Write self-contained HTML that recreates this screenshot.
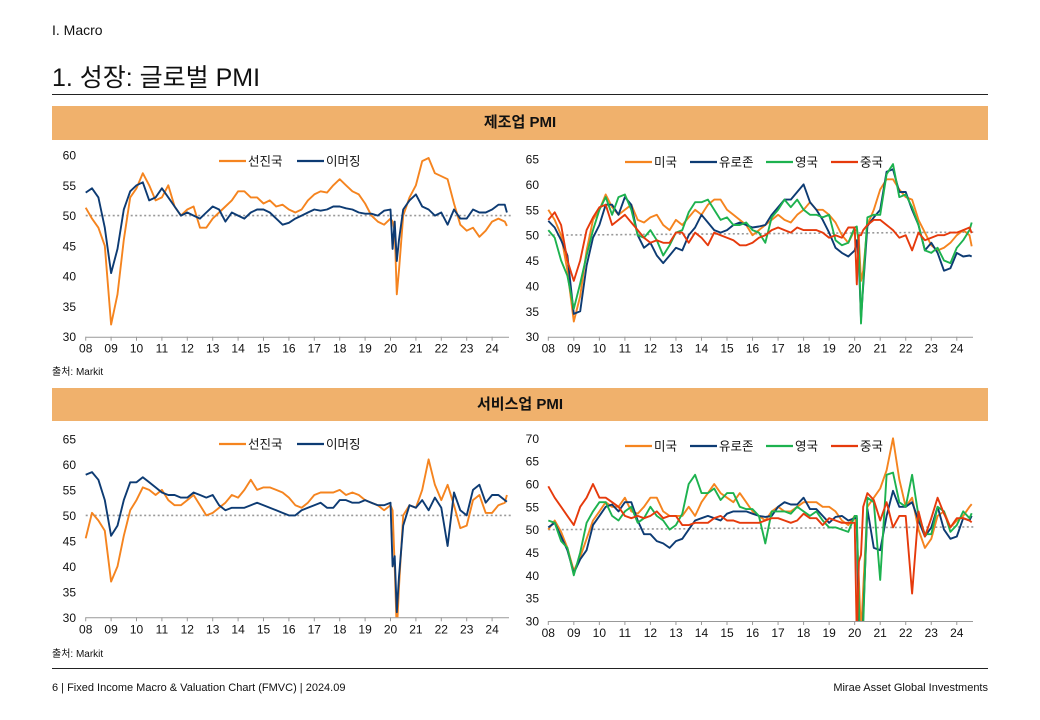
<!DOCTYPE html>
<html><head><meta charset="utf-8">
<style>
body{margin:0;width:1040px;height:720px;background:#fff;position:relative;overflow:hidden;font-family:"Liberation Sans","Noto Sans CJK KR",sans-serif;color:#111}
.abs{position:absolute}
.hdr{position:absolute;left:52px;width:936px;background:#F0B16C;text-align:center;font-weight:bold;font-size:15px}
</style></head><body>
<div class="abs" style="left:52px;top:22px;font-size:14px">I. Macro</div>
<div class="abs" style="left:52px;top:58px;font-size:25px">1. 성장: 글로벌 PMI</div>
<div class="abs" style="left:52px;top:94px;width:936px;height:1px;background:#222"></div>
<div class="hdr" style="top:106px;height:34px;line-height:34px">제조업 PMI</div>
<div class="hdr" style="top:388px;height:33px;line-height:33px">서비스업 PMI</div>
<div class="abs" style="left:52px;top:363px;font-size:10px">출처: Markit</div>
<div class="abs" style="left:52px;top:645px;font-size:10px">출처: Markit</div>
<div class="abs" style="left:52px;top:668px;width:936px;height:1px;background:#222"></div>
<div class="abs" style="left:52px;top:682px;font-size:11px">6 | Fixed Income Macro &amp; Valuation Chart (FMVC) | 2024.09</div>
<div class="abs" style="right:52px;top:682px;font-size:11px">Mirae Asset Global Investments</div>
<svg id="chart" class="abs" style="left:0;top:0" width="1040" height="720"></svg>
<script>
const dates=[2008,2008.25,2008.5,2008.75,2009,2009.25,2009.5,2009.75,2010,2010.25,2010.5,2010.75,2011,2011.25,2011.5,2011.75,2012,2012.25,2012.5,2012.75,2013,2013.25,2013.5,2013.75,2014,2014.25,2014.5,2014.75,2015,2015.25,2015.5,2015.75,2016,2016.25,2016.5,2016.75,2017,2017.25,2017.5,2017.75,2018,2018.25,2018.5,2018.75,2019,2019.25,2019.5,2019.75,2020,2020.083,2020.167,2020.25,2020.333,2020.5,2020.75,2021,2021.25,2021.5,2021.75,2022,2022.25,2022.5,2022.75,2023,2023.25,2023.5,2023.75,2024,2024.25,2024.5,2024.583];
const yearLabels=["08","09","10","11","12","13","14","15","16","17","18","19","20","21","22","23","24"];
// Manufacturing
const mfgDM=[51.3,49.5,48,45,32,37,46,53,54.5,57,55,52.5,53,55,51.5,50,51,51.5,48,48,49.5,50.5,51.5,52.5,54,54,53,53,52,52.5,51.5,51.8,51,50.5,51,52.5,53.5,54,53.8,55,56,55,54,53.5,52,50,49,48.5,49.5,49,47.5,37,41,50,53,55,59,59.5,57,56.5,56,52,48.5,47.5,48,46.5,47.5,49,49.5,49,48.3];
const mfgEM=[53.8,54.5,53,48,40.5,44.5,51,54,55,55.5,52.5,53,54.5,53,51.5,50,50.5,50,49.5,50.5,51.5,51,49,50.5,50,49.5,50.5,51,51,50.5,49.5,48.5,48.8,49.5,50,50.5,51,50.8,51,51.5,51.5,51.2,51,50.5,50.3,50.3,50,50.8,51,44.5,49,42.5,46,51,52.5,53.5,51.5,51,50,50.5,48.5,51,49.5,49.5,51,50.5,50.5,51,51.8,51.8,50.5];
const mfgUS=[55,53,50,43,33,38,47,53,55,58,55.5,54,55,56,53,52.5,53.5,54,52,51,53,52,53.5,55,54,56,57,57,55,54,53,52,50,51,52,53,54,53,52.5,54,55,56.5,55,55,54,52.5,50,48.5,51,51,49,41,43,52,55,59,61,61,59,57.5,57,53,50.5,48,47,47.5,48.5,50,51,50,47.8];
const mfgEZ=[52.8,51.5,49,46,34.5,35,44,49.5,52,56,56,54,57.5,56,50,47.5,48.5,46,44.5,46,47.5,47,50,51.5,54,52.5,51,50.5,51,52,52.5,52,51.5,51.7,52,54,55.5,57,57,58.5,60,56.5,55,53,50.5,47.5,46.5,45.8,47,49,44.5,33.5,40,51.8,53.5,55,62.5,63,58.5,58.5,55,52,47,48.5,46.5,43,43.5,46.5,45.8,46,45.8];
const mfgUK=[51,49.5,45,42,35.5,40.5,46,51,55,57.5,54,57.5,58,55,50,49.5,51,49,46,48,50.5,51,54.5,56.5,56.5,57,55,53,53.5,52,52,52.5,51,50.5,48.5,53.5,55,57,55.5,57,55,54,54,53.5,54,49,48,48.5,51.5,51.7,47.8,32.6,40.7,53.5,54,54,62,64,57.5,58,55.5,52,47,46.5,47.5,45,44.5,47.5,49,51,52.5];
const mfgCN=[53,54.5,52,45,41,45,51,53.5,55.5,56,52,53,54,52.5,51,49.5,48.5,49,48.5,48.5,50.5,50.5,48.5,50.5,49.5,48,50.5,50,49.5,49,48,48,48.5,49.5,50,51,51.5,51,50.5,51.5,51,51,51,50.5,49.5,50,49.5,51.5,51.5,40.3,50,50,51,52,53,53,52,51,49.5,50,47,50.5,49,49.5,50,50,50.5,50.5,51,51.5,50.4];
// Services
const svcDM=[45.5,50.5,49,47,37,40,46,51,53,55.5,55,54,55,53,52,52,53,54,52,50,50.5,51.5,52.5,54,53.5,55,57,55,55.5,55.5,55,54.5,53.5,52,51.5,52.5,54,54.5,54.5,54.5,55,54,54.5,54,53,52.5,52,51,52,51,40,27,36,50,52,51.5,55,61,56,53,56,52,47.5,48,53,54,50.5,50.5,52,52.5,54];
const svcEM=[58,58.5,57,53,46,48,53,56.5,56.5,57.5,56.5,55.5,54.5,54,54,53.5,53.5,54.5,54,53.5,54,52,51,51.5,51.5,51.5,52,52.5,52,51.5,51,50.5,50,50,51,51.5,52,52.5,51.5,51.5,53,53,52.5,52.5,53,52.5,52,52,52.5,40,42,31,38,48,52,51.5,53,51,53.5,51.5,44,54.5,51,50,55,56,52.5,54,54,53,52.7];
const svcUS=[50,52,49.5,46,41,44,48,52,54,56,55,55,57,54,53.5,55,57,57,54,53,53,53,55,53,56,58,60,58,57,56,58,56,54,53,52,54,55,54,54,55,56,56,56,55,55,54,52,51,53,50,39,27,37,55,57,59,63,70,61,55,57,50,46,48,53,54,50.5,52,53,55,55.6];
const svcEZ=[50.5,51.5,48.5,45.5,40.5,43.5,45.5,51,53,55,55.5,54,56,56,52,49,49,47.5,47,46,47.5,48,50,52,52.5,53,52.5,52,53.5,54,54,54,53.5,53,52.8,53,55,56,55.5,55.5,57,54.5,54.5,53,51.5,52.8,53,52,52.5,52.5,26,12,31,54.5,46,45.5,53,58.5,55,55,56,52,48.5,50.5,55,50,48,48.5,52.5,52,53];
const svcUK=[52,51.5,47.5,46,40,45,51.5,54,56,56,53,52,54,55,51.5,52.5,55,53,52,50,51,53.5,60,62,58,58,59,56.5,58,58,55,54.5,54.5,53,47,54,54,54,53.5,55,54,53,54,52,50.5,50.5,50,49.5,53,53,34,13,29,57,56,39,62,62.5,56,55,62,53,49,49,55,54,49.5,51,54,52.5,53.6];
const svcCN=[59.5,57,55,53,51,55,57,60,57,57,56,55,53,52.5,53,52.5,53,54,52.5,53,53,51,51,51.5,51.5,51.5,52.5,53,52,52,51.5,51.5,51.5,51.5,52,52.5,52.5,52,51.5,52,53.5,52.5,52.5,51,52.5,52,51.5,51.5,51.5,26.5,43,44.5,55,58,56.5,52,56,50.5,53,53,36,54,48.5,52.5,57,53.5,50.5,52.5,52.5,52,51.6];

const NS="http://www.w3.org/2000/svg";
const svg=document.getElementById('chart');
const COL={us:"#F5841F",ez:"#0D3B73",uk:"#1DB24F",cn:"#E63A0C",dm:"#F5841F",em:"#0D3B73"};
function mk(tag,attrs,parent){const e=document.createElementNS(NS,tag);for(const k in attrs)e.setAttribute(k,attrs[k]);(parent||svg).appendChild(e);return e;}

function panel(id,cfg){
  const g=mk('g',{});
  
  
  const X=t=>cfg.x0+(t-2008)*cfg.dx;
  const Y=v=>cfg.yTop+(cfg.yMax-v)/(cfg.yMax-30)*(cfg.yBot-cfg.yTop);
  const cp=mk('clipPath',{id:id+'-clip'},g);
  mk('rect',{x:cfg.x0-2,y:cfg.yTop-3,width:cfg.xEnd-cfg.x0+6,height:cfg.yBot-cfg.yTop+3},cp);
  // y labels
  for(let v=30;v<=cfg.yMax;v+=5){
    const t=mk('text',{x:cfg.lx,y:Y(v)+4.5,'text-anchor':'end','font-size':12,fill:'#111'},g);
    t.textContent=v;
    
    
  }
  // x axis
  const ax=mk('line',{x1:cfg.x0,x2:cfg.xEnd,y1:cfg.yBot+0.5,y2:cfg.yBot+0.5,stroke:'#999','stroke-width':1},g);
  
  
  yearLabels.forEach((lab,i)=>{
    const x=X(2008+i);
    mk('line',{x1:x,x2:x,y1:cfg.yBot,y2:cfg.yBot+4,stroke:'#999'},g);
    const t=mk('text',{x:x,y:cfg.yBot+16,'text-anchor':'middle','font-size':12,fill:'#111'},g);
    t.textContent=lab;
    
    
  });
  // ref line
  const rl=mk('line',{x1:cfg.x0,x2:cfg.xEnd+2,y1:Y(50),y2:Y(cfg.refEnd),stroke:'#999','stroke-width':1.6,'stroke-dasharray':'2,2.5'},g);
  
  
  const lines=mk('g',{'clip-path':'url(#'+id+'-clip)'},g);
  cfg.series.forEach(s=>{
    const d=s.data.map((v,i)=>(i?'L':'M')+X(dates[i]).toFixed(1)+','+Y(v).toFixed(1)).join('');
    const p=mk('path',{d:d,fill:'none',stroke:s.color,'stroke-width':1.9,'stroke-linejoin':'round'},lines);
    
    
  });
  // legend
  cfg.legend.forEach((l,i)=>{
    const s=cfg.series[i];
    const lg=mk('g',{},g);
    
    
    mk('line',{x1:l[0],x2:l[0]+27,y1:cfg.ly,y2:cfg.ly,stroke:s.color,'stroke-width':2.2},lg);
    const t=mk('text',{x:l[0]+29,y:cfg.ly+4.5,'font-size':12.5,fill:'#111'},lg);
    t.textContent=s.name;
  });
}
panel('mfg-dm-em',{x0:85.7,dx:25.4,xEnd:509,yTop:155,yBot:336.7,yMax:60,lx:76,ly:161,refEnd:50,
  series:[{key:'dm',name:'선진국',color:COL.dm,data:mfgDM},{key:'em',name:'이머징',color:COL.em,data:mfgEM}],
  legend:[[219],[297]]});
panel('mfg-countries',{x0:548.3,dx:25.53,xEnd:973,yTop:159,yBot:336.7,yMax:65,lx:539,ly:162,refEnd:50.6,
  series:[{key:'us',name:'미국',color:COL.us,data:mfgUS},{key:'ez',name:'유로존',color:COL.ez,data:mfgEZ},{key:'uk',name:'영국',color:COL.uk,data:mfgUK},{key:'cn',name:'중국',color:COL.cn,data:mfgCN}],
  legend:[[625],[690],[766],[831]]});
panel('svc-dm-em',{x0:85.7,dx:25.4,xEnd:509,yTop:439,yBot:617.3,yMax:65,lx:76,ly:444,refEnd:50,
  series:[{key:'dm',name:'선진국',color:COL.dm,data:svcDM},{key:'em',name:'이머징',color:COL.em,data:svcEM}],
  legend:[[219],[297]]});
panel('svc-countries',{x0:548.3,dx:25.53,xEnd:973,yTop:438.3,yBot:621,yMax:70,lx:539,ly:446,refEnd:50.6,
  series:[{key:'us',name:'미국',color:COL.us,data:svcUS},{key:'ez',name:'유로존',color:COL.ez,data:svcEZ},{key:'uk',name:'영국',color:COL.uk,data:svcUK},{key:'cn',name:'중국',color:COL.cn,data:svcCN}],
  legend:[[625],[690],[766],[831]]});
</script>
</body></html>
